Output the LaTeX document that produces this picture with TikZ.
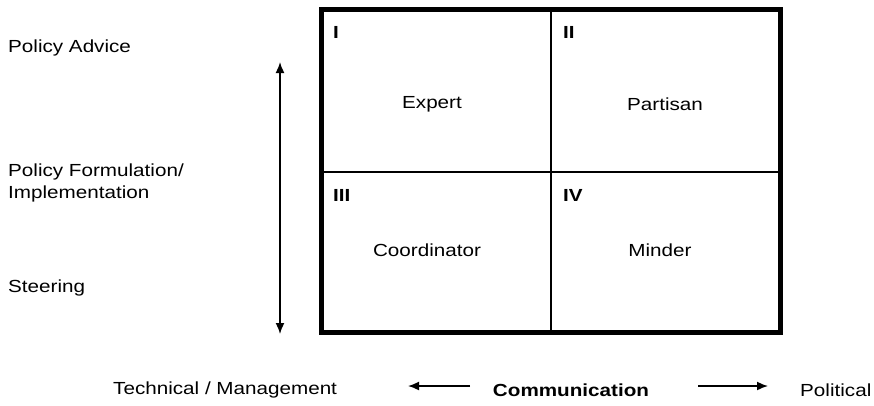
\documentclass[tikz,border=0pt]{standalone}
\usepackage{fontspec}
\setmainfont[FakeStretch=1.18]{Liberation Sans}
\usetikzlibrary{arrows.meta}
\tikzset{
  lbl/.style={inner sep=0pt, font=\fontsize{17.5}{22}\selectfont},
  side/.style={lbl, anchor=west, align=left},
  num/.style={side, font=\fontsize{17.5}{22}\selectfont\bfseries},
  axis/.style={line width=1.6pt, -{Latex[length=11pt,width=9pt]}},
}
\begin{document}
\begin{tikzpicture}[x=1pt,y=-1pt]
  \useasboundingbox (0,0) rectangle (874,405);
  % frame and dividers
  \coordinate (NW) at (321.5,9);
  \coordinate (SE) at (780.5,332);
  \coordinate (Vtop) at (551,9);
  \coordinate (Vbot) at (551,332);
  \coordinate (Hleft) at (321.5,172);
  \coordinate (Hright) at (780.5,172);
  \draw[line width=5pt] (NW) rectangle (SE);
  \draw[line width=1.2pt] (Vtop) -- (Vbot);
  \draw[line width=1.2pt] (Hleft) -- (Hright);
  % quadrant numbers and roles
  \node[num] (q1) at (333,32) {I};
  \node[num] (q2) at (563,32) {II};
  \node[num] (q3) at (333,195) {III};
  \node[num] (q4) at (563,195) {IV};
  \node[lbl] (expert) at (432,104) {Expert};
  \node[lbl] (partisan) at (665,104) {Partisan};
  \node[lbl] (coord) at (427,250) {Coordinator};
  \node[lbl] (minder) at (660,250) {Minder};
  % vertical axis
  \node[side] (advice) at (8,48) {Policy Advice};
  \node[side] (formul) at (8,183) {Policy Formulation/\\Implementation};
  \node[side] (steer) at (8,288) {Steering};
  \coordinate (Atop) at (280,62);
  \coordinate (Abot) at (280,334);
  \draw[axis, {Latex[length=11pt,width=9pt]}-{Latex[length=11pt,width=9pt]}] (Atop) -- (Abot);
  % horizontal axis
  \node[side] (tech) at (113,390) {Technical / Management};
  \node[lbl, font=\fontsize{17.5}{22}\selectfont\bfseries] (comm) at (571,390) {Communication};
  \node[side] (pol) at (800,390) {Political};
  \coordinate (Lstart) at (470,386);
  \coordinate (Lend) at (408,386);
  \coordinate (Rstart) at (698,386);
  \coordinate (Rend) at (768,386);
  \draw[axis] (Lstart) -- (Lend);
  \draw[axis] (Rstart) -- (Rend);
\end{tikzpicture}
\end{document}
